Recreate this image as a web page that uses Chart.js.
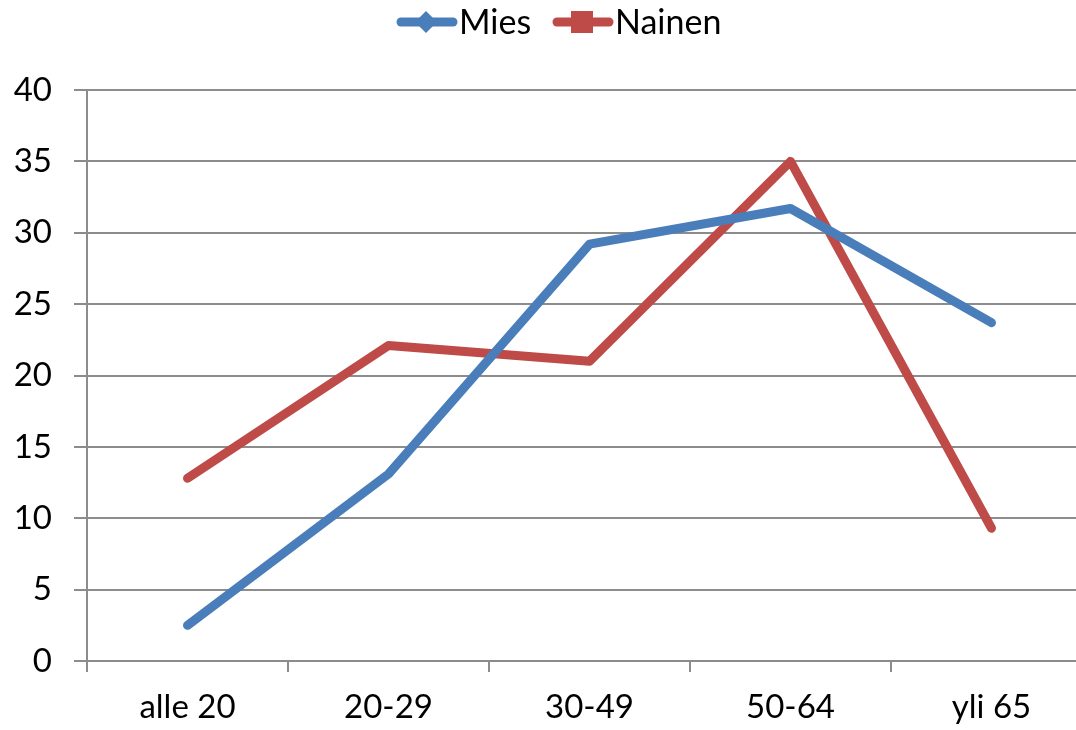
<!DOCTYPE html>
<html>
<head>
<meta charset="utf-8">
<script src="https://cdn.jsdelivr.net/npm/chart.js@4"></script>
<style>
  html, body { margin: 0; padding: 0; background: #fff; overflow: hidden; }
  #wrap { width: 1100px; height: 730px; }
</style>
</head>
<body>
<div id="wrap"><canvas id="chart" width="1100" height="730"></canvas></div>
<script>
const categories = ['alle 20', '20-29', '30-49', '50-64', 'yli 65'];
const mies = [2.5, 13.1, 29.2, 31.7, 23.7];
const nainen = [12.8, 22.1, 21.0, 35.0, 9.3];
const yTicks = [0, 5, 10, 15, 20, 25, 30, 35, 40];

const FONT = 'Lato, "Open Sans", sans-serif';

// legend drawn by hand: line + marker + label, like the spreadsheet legend
const lineLegend = {
    id: 'lineLegend',
    afterDraw(chart) {
        const ctx = chart.ctx;
        const items = chart.data.datasets;
        const y = 22;
        const starts = [397, 553];
        ctx.save();
        ctx.font = '34px ' + FONT;
        ctx.textBaseline = 'middle';
        items.forEach((ds, i) => {
            const x = starts[i];
            ctx.strokeStyle = ds.borderColor;
            ctx.lineWidth = 9;
            ctx.lineCap = 'round';
            ctx.beginPath();
            ctx.moveTo(x + 4, y);
            ctx.lineTo(x + 56, y);
            ctx.stroke();
            ctx.fillStyle = ds.borderColor;
            const cx = x + 29;
            if (ds.legendMarker === 'diamond') {
                ctx.beginPath();
                ctx.moveTo(cx, y - 11);
                ctx.lineTo(cx + 11, y);
                ctx.lineTo(cx, y + 11);
                ctx.lineTo(cx - 11, y);
                ctx.closePath();
                ctx.fill();
            } else {
                ctx.fillRect(cx - 11, y - 11, 22, 22);
            }
            ctx.fillStyle = '#000';
            ctx.textAlign = 'left';
            ctx.fillText(ds.label, x + 62, y + 1);
        });
        ctx.restore();
    }
};

new Chart(document.getElementById('chart'), {
    type: 'line',
    data: {
        labels: categories,
        datasets: [{
            label: 'Mies',
            data: mies,
            borderColor: '#4a7ebb',
            backgroundColor: '#4a7ebb',
            borderWidth: 9,
            pointRadius: 0,
            borderCapStyle: 'round',
            borderJoinStyle: 'round',
            legendMarker: 'diamond'
        }, {
            label: 'Nainen',
            data: nainen,
            borderColor: '#be4b48',
            backgroundColor: '#be4b48',
            borderWidth: 9,
            pointRadius: 0,
            borderCapStyle: 'round',
            borderJoinStyle: 'round',
            legendMarker: 'square'
        }]
    },
    options: {
        responsive: false,
        animation: false,
        layout: { padding: { top: 90, right: 8, left: 0, bottom: 0 } },
        plugins: {
            legend: { display: false },
            tooltip: { enabled: false }
        },
        scales: {
            x: {
                offset: true,
                afterFit: s => { s.height = 69; },
                grid: {
                    offset: true,
                    drawOnChartArea: false,
                    drawTicks: true,
                    tickLength: 11,
                    color: '#8c8c8c',
                    lineWidth: 2
                },
                border: { color: '#8c8c8c', width: 2 },
                ticks: { color: '#000', font: { family: FONT, size: 33 }, padding: 16, maxRotation: 0 }
            },
            y: {
                min: 0,
                max: 40,
                afterFit: s => { s.width = 87; },
                afterBuildTicks: s => { s.ticks = yTicks.map(v => ({ value: v })); },
                grid: {
                    color: '#8c8c8c',
                    lineWidth: 2,
                    tickLength: 13
                },
                border: { color: '#8c8c8c', width: 2 },
                ticks: { color: '#000', font: { family: FONT, size: 33 }, padding: 22 }
            }
        }
    },
    plugins: [lineLegend]
});
</script>
</body>
</html>
